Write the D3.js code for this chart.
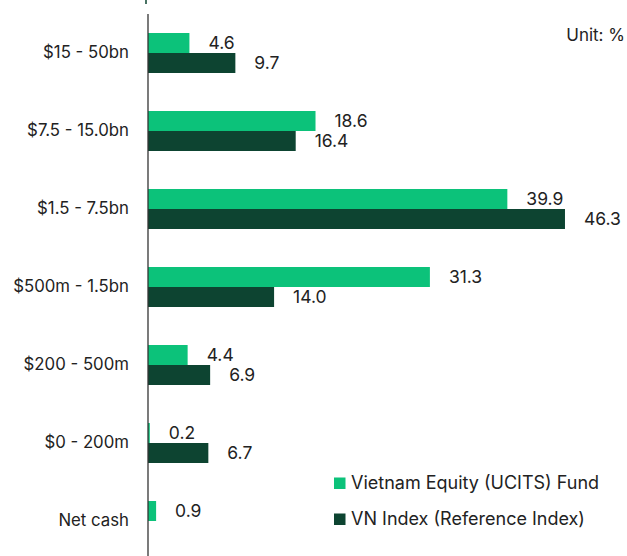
<!DOCTYPE html>
<html><head><meta charset="utf-8">
<script src="https://cdn.jsdelivr.net/npm/d3@7"></script>
<style>body{margin:0;background:#fff;} text{font-family:Inter,"Noto Sans",sans-serif;}</style>
</head><body><svg id="c" width="627" height="556"></svg>
<script>
const categories = ["$15 - 50bn","$7.5 - 15.0bn","$1.5 - 7.5bn","$500m - 1.5bn","$200 - 500m","$0 - 200m","Net cash"];
const fundValues = [4.6, 18.6, 39.9, 31.3, 4.4, 0.2, 0.9];
const indexValues = [9.7, 16.4, 46.3, 14.0, 6.9, 6.7, null];
const seriesNames = ["Vietnam Equity (UCITS) Fund", "VN Index (Reference Index)"];
const colors = ["#0cc27a", "#0d4431"];

const svg = d3.select("#c");
const x = d3.scaleLinear().domain([0, 50]).range([148, 598.3]);
const y = d3.scaleBand().domain(categories).range([14, 560]).paddingInner(38/78).paddingOuter(19/78);
const ys = d3.scaleBand().domain([0,1]).range([0, y.bandwidth()]);

const rows = categories.map((c,i)=>({c, v:[fundValues[i], indexValues[i]]}));

const g = svg.append("g");
rows.forEach(r=>{
  r.v.forEach((v,k)=>{
    if(v==null) return;
    g.append("rect").attr("x", x(0)).attr("y", y(r.c)+ys(k))
      .attr("width", x(v)-x(0)).attr("height", ys.bandwidth()).attr("fill", colors[k]);
    g.append("text").attr("x", x(v)+19).attr("y", y(r.c)+ys(k)+ys.bandwidth()/2)
      .attr("dy","0.35em").attr("font-size",17.5).attr("fill","#222").text(v.toFixed(1));
  });
});

// category axis
const ax = d3.axisLeft(y).tickSize(0).tickPadding(19);
const axg = svg.append("g").attr("transform",`translate(${x(0)},0)`).call(ax);
axg.select(".domain").remove();
axg.selectAll("text").attr("font-size",16.8).attr("fill","#222").style("font-family","Inter, sans-serif");
svg.append("line").attr("x1",x(0)).attr("x2",x(0)).attr("y1",14).attr("y2",556).attr("stroke","#333").attr("stroke-width",1.3);
svg.append("line").attr("x1",x(0)-2).attr("x2",x(0)-2).attr("y1",0).attr("y2",4).attr("stroke",colors[1]).attr("stroke-width",1.5);

svg.append("text").attr("x",625).attr("y",35).attr("dy","0.35em").attr("text-anchor","end")
  .attr("font-size",17).attr("fill","#222").text("Unit: %");

const lg = svg.append("g");
seriesNames.forEach((n,k)=>{
  const cy = 483 + k*36;
  lg.append("rect").attr("x",334).attr("y",cy-5.5).attr("width",11.5).attr("height",11.5).attr("fill",colors[k]);
  lg.append("text").attr("x",351).attr("y",cy).attr("dy","0.35em").attr("font-size",18).attr("fill","#222").text(n);
});
</script></body></html>
